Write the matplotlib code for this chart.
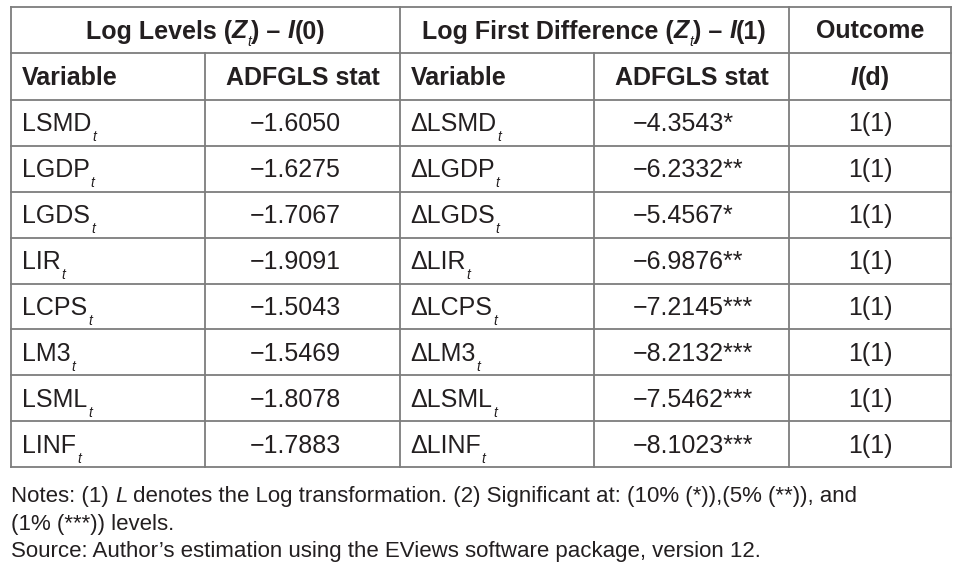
import matplotlib
matplotlib.use('Agg')
import matplotlib.pyplot as plt

# ---------------- data ----------------
level_vars = ['LSMD', 'LGDP', 'LGDS', 'LIR', 'LCPS', 'LM3', 'LSML', 'LINF']
level_stats = [-1.6050, -1.6275, -1.7067, -1.9091, -1.5043, -1.5469, -1.8078, -1.7883]
diff_stats = [-4.3543, -6.2332, -5.4567, -6.9876, -7.2145, -8.2132, -7.5462, -8.1023]
diff_sig = ['*', '**', '*', '**', '***', '***', '***', '***']
outcomes = ['1(1)'] * 8
note_lines = [
    [('Notes: (1) ', 'normal'), ('L', 'italic'),
     (' denotes the Log transformation. (2) Significant at: (10% (*)),(5% (**)), and', 'normal')],
    [('(1% (***)) levels.', 'normal')],
    [('Source: Author\u2019s estimation using the EViews software package, version 12.', 'normal')],
]

# ---------------- layout ----------------
FONT = 'Liberation Sans'
TXT = '#231f20'
LINE = '#7d7d7d'
W, H = 970, 570
FS = 18
SUB = 10
NOTE_FS = 16

col_x = [11, 205, 400, 594, 789, 951]
row_y = [7, 53, 100]
row_h = (467 - 100) / 8
row_y += [100 + row_h * (i + 1) for i in range(8)]

fig = plt.figure(figsize=(W / 100, H / 100), dpi=100)
ax = fig.add_axes([0, 0, 1, 1])
ax.set_xlim(0, W)
ax.set_ylim(H, 0)
ax.axis('off')
renderer = fig.canvas.get_renderer()


def measure(s, size, weight, style):
    kw = dict(family=FONT, fontsize=size, fontweight=weight, fontstyle=style)
    t = ax.text(0, 0, '|' + s + '|', **kw)
    w1 = t.get_window_extent(renderer).width
    t.remove()
    t = ax.text(0, 0, '||', **kw)
    w2 = t.get_window_extent(renderer).width
    t.remove()
    return w1 - w2


def draw_runs(x, y, runs, ha='left'):
    # runs: (text, weight, style, size, dy, dx_before)
    widths = [measure(r[0], r[3], r[1], r[2]) + r[5] for r in runs]
    total = sum(widths)
    if ha == 'center':
        x0 = x - total / 2
    elif ha == 'right':
        x0 = x - total
    else:
        x0 = x
    for r, w in zip(runs, widths):
        ax.text(x0 + r[5], y + r[4], r[0], family=FONT, fontsize=r[3], fontweight=r[1],
                fontstyle=r[2], color=TXT, ha='left', va='baseline')
        x0 += w


def sub_t(weight='normal'):
    return ('t', weight, 'italic', SUB, 10, 1)


def baseline(i):
    return (row_y[i] + row_y[i + 1]) / 2 + 8.5


# grid lines
for y in row_y:
    ax.plot([col_x[0], col_x[-1]], [y, y], color=LINE, lw=1.3, solid_capstyle='projecting')
for j, x in enumerate(col_x):
    y0 = row_y[0] if j in (0, 2, 4, 5) else row_y[1]
    ax.plot([x, x], [y0, row_y[-1]], color=LINE, lw=1.3, solid_capstyle='projecting')

# header row 1
b = baseline(0)
draw_runs((col_x[0] + col_x[2]) / 2, b, [
    ('Log Levels (', 'bold', 'normal', FS, 0, 0),
    ('Z', 'bold', 'italic', FS, 0, 0),
    ('t', 'normal', 'italic', SUB, 8, 0),
    (') \u2013 ', 'bold', 'normal', FS, 0, 0),
    ('I', 'bold', 'italic', FS, 0, 0),
    ('(0)', 'bold', 'normal', FS, 0, 0)], ha='center')
draw_runs((col_x[2] + col_x[4]) / 2, b, [
    ('Log First Difference (', 'bold', 'normal', FS, 0, 0),
    ('Z', 'bold', 'italic', FS, 0, 0),
    ('t', 'normal', 'italic', SUB, 8, 0),
    (') \u2013 ', 'bold', 'normal', FS, 0, 0),
    ('I', 'bold', 'italic', FS, 0, 0),
    ('(1)', 'bold', 'normal', FS, 0, 0)], ha='center')
draw_runs((col_x[4] + col_x[5]) / 2, b, [('Outcome', 'bold', 'normal', FS, 0, 0)], ha='center')

# header row 2
b = baseline(1)
draw_runs(col_x[0] + 11, b, [('Variable', 'bold', 'normal', FS, 0, 0)])
draw_runs((col_x[1] + col_x[2]) / 2, b, [('ADFGLS stat', 'bold', 'normal', FS, 0, 0)], ha='center')
draw_runs(col_x[2] + 11, b, [('Variable', 'bold', 'normal', FS, 0, 0)])
draw_runs((col_x[3] + col_x[4]) / 2, b, [('ADFGLS stat', 'bold', 'normal', FS, 0, 0)], ha='center')
draw_runs((col_x[4] + col_x[5]) / 2, b, [('I', 'bold', 'italic', FS, 0, 0),
                                          ('(d)', 'bold', 'normal', FS, 0, 0)], ha='center')


def fmt(v):
    return ('\u2212' if v < 0 else '') + f'{abs(v):.4f}'


for i in range(8):
    b = baseline(i + 2)
    draw_runs(col_x[0] + 11, b, [(level_vars[i], 'normal', 'normal', FS, 0, 0), sub_t()])
    draw_runs(col_x[1] + 45, b, [(fmt(level_stats[i]), 'normal', 'normal', FS, 0, 0)])
    draw_runs(col_x[2] + 10, b, [('\u0394' + level_vars[i], 'normal', 'normal', FS, 0, 0), sub_t()])
    draw_runs(col_x[3] + 39, b, [(fmt(diff_stats[i]) + diff_sig[i], 'normal', 'normal', FS, 0, 0)])
    draw_runs((col_x[4] + col_x[5]) / 2, b, [(outcomes[i], 'normal', 'normal', FS, 0, 0)], ha='center')

# notes
note_base = [502, 530, 557]
for yb, line in zip(note_base, note_lines):
    draw_runs(11, yb, [(s, 'normal', st, NOTE_FS, 0, 0) for s, st in line])

fig.savefig('out.png', dpi=100, facecolor='white')
